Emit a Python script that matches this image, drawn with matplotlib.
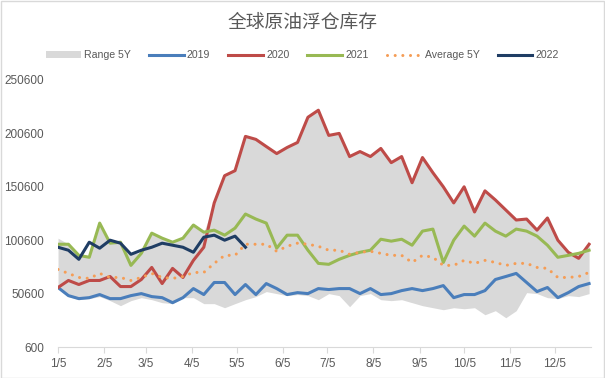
#!/usr/bin/env python

import numpy as np
import pandas as pd
import matplotlib
matplotlib.use("Agg")
import matplotlib.pyplot as plt
from matplotlib.patches import Rectangle

plt.rcParams['font.family'] = ['Liberation Sans', 'Noto Sans CJK SC']

# weekly observations, values in thousand barrels
weeks = pd.date_range("2021-01-05", periods=52, freq="7D")

range_lo = [55.3, 47.8, 44.9, 45.9, 47.8, 44.0, 39.3, 44.0, 46.8, 44.9,
            42.1, 41.2, 46.8, 46.8, 41.2, 41.2, 37.4, 41.2, 44.9, 47.8,
            52.5, 50.6, 48.7, 49.7, 48.7, 44.9, 50.6, 48.7, 38.3, 48.7,
            50.6, 44.9, 44.0, 44.9, 42.1, 39.3, 37.4, 35.5, 37.4, 36.4,
            37.4, 30.8, 34.6, 28.0, 34.6, 51.5, 50.6, 46.8, 45.9, 48.7,
            47.8, 50.6]
range_hi = [102.5, 97.0, 88.0, 86.0, 117.0, 99.0, 99.0, 88.0, 89.0, 108.0,
            103.0, 99.0, 103.0, 115.0, 108.0, 135.5, 161.0, 165.7, 197.8, 195.0,
            188.3, 181.7, 187.4, 192.1, 215.7, 222.3, 198.7, 200.6, 178.9, 183.6,
            178.9, 186.5, 173.2, 178.9, 154.4, 178.0, 163.8, 150.6, 135.5, 150.6,
            127.0, 146.8, 138.3, 128.9, 119.5, 120.4, 110.0, 121.4, 100.6, 89.3,
            88.3, 96.8]
y2019 = [56.3, 48.7, 45.9, 46.8, 49.7, 45.9, 45.9, 48.7, 50.6, 47.8,
         46.8, 42.1, 46.8, 55.3, 49.7, 61.0, 61.0, 49.7, 59.1, 49.7,
         60.0, 55.3, 49.7, 51.5, 50.6, 55.3, 54.4, 55.3, 55.3, 50.6,
         55.3, 49.7, 50.6, 53.4, 55.3, 53.4, 55.3, 58.1, 46.8, 49.7,
         49.7, 53.4, 63.8, 66.6, 69.5, 61.0, 52.5, 56.3, 46.8, 51.5,
         57.2, 60.0]
y2020 = [56.3, 62.9, 59.1, 62.9, 62.9, 66.6, 57.2, 57.2, 63.8, 75.1,
         60.0, 74.2, 65.7, 81.7, 94.0, 135.5, 161.0, 165.7, 197.8, 195.0,
         188.3, 181.7, 187.4, 192.1, 215.7, 222.3, 198.7, 200.6, 178.9, 183.6,
         178.9, 186.5, 173.2, 178.9, 154.4, 178.0, 163.8, 150.6, 135.5, 150.6,
         127.0, 146.8, 138.3, 128.9, 119.5, 120.4, 110.0, 121.4, 100.6, 89.3,
         83.6, 96.8]
y2021 = [96.8, 96.8, 86.4, 84.6, 116.6, 97.8, 98.7, 77.0, 88.3, 107.2,
         102.5, 98.7, 102.5, 114.8, 108.1, 110.0, 105.3, 111.9, 125.1, 120.4,
         116.6, 93.1, 105.3, 105.3, 91.2, 78.9, 78.0, 82.7, 86.4, 89.3,
         91.2, 101.5, 99.7, 101.5, 95.9, 109.1, 111.0, 79.8, 100.6, 113.8,
         104.4, 116.6, 109.1, 104.4, 111.0, 109.1, 104.4, 95.9, 84.6, 86.4,
         88.3, 91.2]
avg5y = [73.2, 69.5, 65.7, 64.8, 69.5, 65.7, 65.7, 62.9, 65.7, 69.5,
         65.7, 64.8, 66.6, 70.4, 70.4, 78.9, 86.4, 86.4, 96.8, 96.8,
         96.8, 90.2, 94.9, 97.8, 96.8, 94.9, 91.2, 91.2, 87.4, 89.3,
         90.2, 88.3, 86.4, 86.4, 79.8, 86.4, 84.6, 77.0, 77.0, 81.7,
         78.9, 81.7, 79.8, 77.0, 78.9, 78.9, 75.1, 74.2, 65.7, 65.7,
         66.6, 70.4]
y2022 = [94.0, 91.2, 82.7, 98.7, 93.1, 100.6, 97.8, 87.4, 91.2, 94.0,
         97.8, 95.9, 94.0, 89.3, 103.4, 105.3, 100.6, 104.4, 94.0]

x_ticks = ["2021-01-05", "2021-02-05", "2021-03-05", "2021-04-05", "2021-05-05",
           "2021-06-05", "2021-07-05", "2021-08-05", "2021-09-05", "2021-10-05",
           "2021-11-05", "2021-12-05"]
x_labels = ["1/5", "2/5", "3/5", "4/5", "5/5", "6/5", "7/5", "8/5", "9/5",
            "10/5", "11/5", "12/5"]
y_ticks = [600, 50600, 100600, 150600, 200600, 250600]


def main():
    fig = plt.figure(figsize=(6.05, 3.78), dpi=100)
    ax = fig.add_axes([0.0959, 0.082, 0.881, 0.7064])

    k = 1000
    ax.fill_between(weeks, np.array(range_lo) * k, np.array(range_hi) * k,
                    color="#d9d9d9", lw=0, label="Range 5Y")
    ax.plot(weeks, np.array(y2019) * k, color="#4a7ebb", lw=2.2, label="2019")
    ax.plot(weeks, np.array(y2020) * k, color="#be4b48", lw=2.2, label="2020")
    ax.plot(weeks, np.array(y2021) * k, color="#98b954", lw=2.2, label="2021")
    ax.plot(weeks, np.array(avg5y) * k, color="#f59d56", lw=2.2,
            linestyle=(0, (0.01, 2.5)), dash_capstyle="round", label="Average 5Y")
    ax.plot(weeks[:len(y2022)], np.array(y2022) * k, color="#1f3d64", lw=2.2,
            label="2022")

    ax.set_ylim(600, 250600)
    ax.set_yticks(y_ticks)
    ax.set_yticklabels([str(v) for v in y_ticks])
    ax.set_xlim(pd.Timestamp("2021-01-05"), pd.Timestamp("2021-01-05") + pd.Timedelta(days=358.3))
    ax.set_xticks(pd.to_datetime(x_ticks))
    ax.set_xticklabels(x_labels)

    for s in ["top", "right", "left"]:
        ax.spines[s].set_visible(False)
    ax.spines["bottom"].set_color("#d9d9d9")
    ax.tick_params(axis="y", length=0, pad=10, labelsize=8.5, labelcolor="#595959")
    ax.tick_params(axis="x", length=4, width=0.8, color="#d9d9d9", pad=4,
                   labelsize=8.5, labelcolor="#595959")

    fig.text(0.5, 0.94, "全球原油浮仓库存", ha="center", va="center",
             fontsize=13.5, color="#595959",
             family=["Noto Sans CJK SC", "DejaVu Sans"])

    fig.legend(loc="center", bbox_to_anchor=(0.5, 0.854), ncol=6, frameon=False,
               fontsize=7.6, labelcolor="#595959", handlelength=3.3,
               handleheight=0.6, handletextpad=0.3, columnspacing=1.7)

    fig.add_artist(Rectangle((0.001, 0.001), 0.997, 0.997, transform=fig.transFigure,
                             fill=False, edgecolor="#d9d9d9", lw=1))

    fig.savefig("out.png", dpi=100)


if __name__ == "__main__":
    main()
